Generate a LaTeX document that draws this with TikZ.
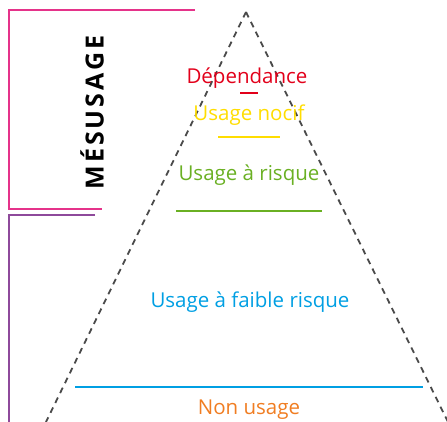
\documentclass[tikz,border=0pt]{standalone}
\usepackage{fontspec}
\setmainfont{Open Sans}
\definecolor{cred}{HTML}{E2001A}
\definecolor{cyel}{HTML}{FFDD00}
\definecolor{cgreen}{HTML}{6AB023}
\definecolor{cblue}{HTML}{009FE3}
\definecolor{corange}{HTML}{F07D22}
\definecolor{cpink}{HTML}{E5338A}
\definecolor{cpurple}{HTML}{8E4A9B}
\definecolor{cgray}{HTML}{4A4A4A}
\newcommand{\ks}{\kern2.9pt}
\begin{document}
\begin{tikzpicture}[x=1pt,y=-1pt,
  lbl/.style={font=\fontsize{20.5}{22}\selectfont, inner sep=0pt},
  sep/.style={line width=2pt},
  brk/.style={line width=2.5pt},
  tri/.style={dash pattern=on 6pt off 5pt, line width=1.8pt, cgray}]
\useasboundingbox (0,0) rectangle (447,422);
\coordinate (apex) at (246,12);
\coordinate (bl) at (46,422);
\coordinate (br) at (448,422);
\draw[tri] (apex) -- (bl);
\draw[tri] (apex) -- (br);
% pink bracket
\coordinate (p1) at (195,10);
\coordinate (p2) at (9,10);
\coordinate (p3) at (9,209);
\coordinate (p4) at (102,209);
\draw[brk, cpink] (p1) -- (p2) -- (p3) -- (p4);
% purple bracket
\coordinate (q1) at (95,215);
\coordinate (q2) at (9,215);
\coordinate (q3) at (9,423);
\draw[brk, cpurple] (q1) -- (q2) -- (q3);
\node[rotate=90, font=\fontsize{25}{26}\bfseries\selectfont, inner sep=0pt] (mes) at (92,112.5) {M\ks É\ks S\ks U\ks S\ks A\ks G\ks E};
% labels
\node[lbl, text=cred] (dep) at (247,78) {Dépendance};
\node[lbl, text=cyel] (noc) at (249,115) {Usage nocif};
\node[lbl, text=cgreen] (ris) at (249,175) {Usage à risque};
\node[lbl, text=cblue] (fai) at (250,302) {Usage à faible risque};
\node[lbl, text=corange] (non) at (249,410) {Non usage};
% separators
\coordinate (r1) at (240,93); \coordinate (r2) at (258,93);
\draw[sep, cred] (r1) -- (r2);
\coordinate (y1) at (218,137); \coordinate (y2) at (280,137);
\draw[sep, cyel] (y1) -- (y2);
\coordinate (g1) at (176,211); \coordinate (g2) at (322,211);
\draw[sep, cgreen] (g1) -- (g2);
\coordinate (b1) at (75,387); \coordinate (b2) at (423,387);
\draw[sep, cblue] (b1) -- (b2);
\end{tikzpicture}
\end{document}
